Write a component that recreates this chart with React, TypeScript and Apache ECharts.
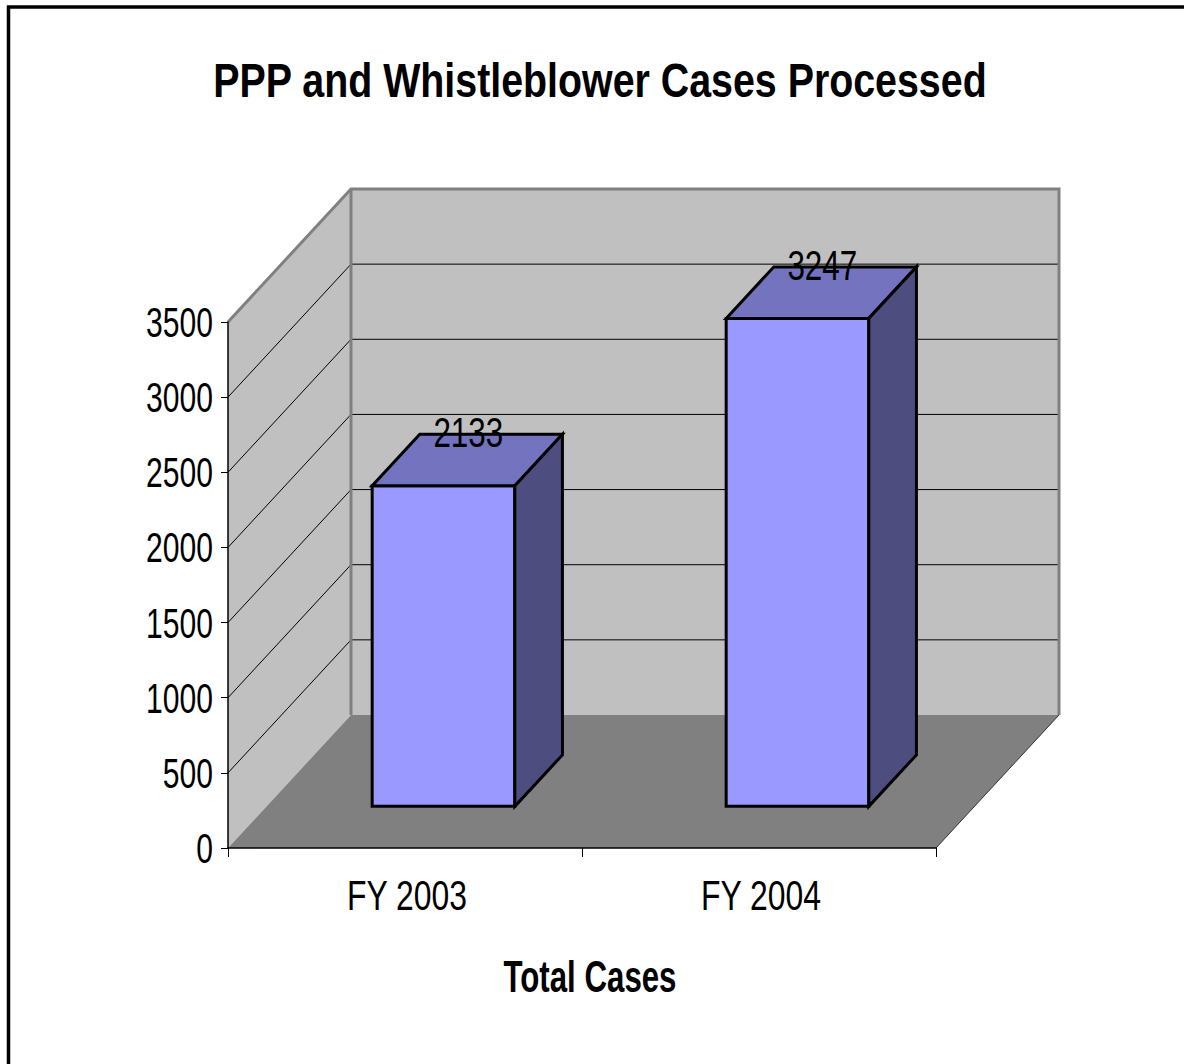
import React, { useEffect, useRef } from "react";
import * as echarts from "echarts";

const categories = ["FY 2003", "FY 2004"];
const values = [2133, 3247];
const yTicks = [0, 500, 1000, 1500, 2000, 2500, 3000, 3500];
const yMin = 0;
const yMax = 3500;
const yInterval = 500;
const titleText = "PPP and Whistleblower Cases Processed";
const axisTitle = "Total Cases";

const FONT = '"Liberation Sans", Arial, sans-serif';

const DX = 123;
const DY = -133;
const BAR_Z0 = 0.313;
const BAR_Z1 = 0.70;
const BAR_W = 0.403;

export default function App() {
  const ref = useRef<HTMLDivElement>(null);
  useEffect(() => {
    const chart = echarts.init(ref.current!, null, { renderer: "svg" });
    const P = (x: number, y: number, z: number) => [x + z * DX, y + z * DY];

    const wallsRender = (params: any, api: any) => {
      const band = api.size([1, 0])[0];
      const c0 = api.coord([0, yMin]);
      const cN = api.coord([categories.length - 1, yMin]);
      const xL = c0[0] - band / 2;
      const xR = cN[0] + band / 2;
      const yB = c0[1];
      const yT = api.coord([0, yMax])[1];
      const children: any[] = [];
      children.push({
        type: "polygon",
        shape: { points: [P(xL, yB, 1), P(xR, yB, 1), P(xR, yT, 1), P(xL, yT, 1)] },
        style: { fill: "#C0C0C0" },
      });
      children.push({
        type: "polygon",
        shape: { points: [P(xL, yB, 0), P(xL, yB, 1), P(xL, yT, 1), P(xL, yT, 0)] },
        style: { fill: "#C0C0C0" },
      });
      children.push({
        type: "polygon",
        shape: { points: [P(xL, yB, 0), P(xR, yB, 0), P(xR, yB, 1), P(xL, yB, 1)] },
        style: { fill: "#808080" },
      });
      yTicks.forEach((v) => {
        if (v <= yMin || v >= yMax) return;
        const y = api.coord([0, v])[1];
        children.push({
          type: "polyline",
          shape: { points: [P(xL, y, 0), P(xL, y, 1), P(xR, y, 1)] },
          style: { stroke: "#000", lineWidth: 1, fill: null },
        });
      });
      children.push({
        type: "polyline",
        shape: { points: [P(xL, yT, 0), P(xL, yT, 1), P(xR, yT, 1), P(xR, yB, 1)] },
        style: { stroke: "#808080", lineWidth: 3, fill: null },
      });
      children.push({
        type: "polyline",
        shape: { points: [P(xL, yT, 1), P(xL, yB, 1)] },
        style: { stroke: "#808080", lineWidth: 3, fill: null },
      });
      children.push({
        type: "polyline",
        shape: { points: [P(xR, yB, 0), P(xR, yB, 1)] },
        style: { stroke: "#333", lineWidth: 1, fill: null },
      });
      return { type: "group", children };
    };

    const barsRender = (params: any, api: any) => {
      const ci = api.value(0);
      const v = api.value(1);
      const c = api.coord([ci, yMin]);
      const t = api.coord([ci, v]);
      const band = api.size([1, 0])[0];
      const hw = (band * BAR_W) / 2;
      const x0 = c[0] - hw;
      const x1 = c[0] + hw;
      const yb = c[1];
      const yt = t[1];
      const edge = { stroke: "#000", lineWidth: 3, lineJoin: "miter" };
      const lab = P(c[0], yt, (BAR_Z0 + BAR_Z1) / 2);
      return {
        type: "group",
        children: [
          {
            type: "polygon",
            shape: { points: [P(x0, yb, BAR_Z0), P(x1, yb, BAR_Z0), P(x1, yt, BAR_Z0), P(x0, yt, BAR_Z0)] },
            style: { fill: "#9999FF", ...edge },
          },
          {
            type: "polygon",
            shape: { points: [P(x0, yt, BAR_Z0), P(x1, yt, BAR_Z0), P(x1, yt, BAR_Z1), P(x0, yt, BAR_Z1)] },
            style: { fill: "#7373BF", ...edge },
          },
          {
            type: "polygon",
            shape: { points: [P(x1, yb, BAR_Z0), P(x1, yb, BAR_Z1), P(x1, yt, BAR_Z1), P(x1, yt, BAR_Z0)] },
            style: { fill: "#4D4D80", ...edge },
          },
          {
            type: "text",
            x: lab[0] + 1,
            y: lab[1] - 28,
            scaleX: 0.73,
            style: {
              text: String(v),
              fill: "#000",
              font: `43px ${FONT}`,
              align: "center",
              verticalAlign: "middle",
            },
          },
        ],
      };
    };

    const yLabelRender = (params: any, api: any) => {
      const v = api.value(1);
      const p = api.coord([0, v]);
      const band = api.size([1, 0])[0];
      return {
        type: "text",
        x: p[0] - band / 2 - 15,
        y: p[1],
        scaleX: 0.7,
        style: {
          text: String(v),
          fill: "#000",
          font: `43px ${FONT}`,
          align: "right",
          verticalAlign: "middle",
        },
      };
    };

    const xLabelRender = (params: any, api: any) => {
      const i = api.value(0);
      const p = api.coord([i, yMin]);
      return {
        type: "text",
        x: p[0] + 2,
        y: p[1] + 47,
        scaleX: 0.76,
        style: {
          text: categories[i],
          fill: "#000",
          font: `42px ${FONT}`,
          align: "center",
          verticalAlign: "middle",
        },
      };
    };

    chart.setOption({
      animation: false,
      backgroundColor: "#fff",
      grid: { left: 228, top: 322, width: 708, height: 526, containLabel: false },
      xAxis: {
        type: "category",
        data: categories,
        boundaryGap: true,
        axisLine: { lineStyle: { color: "#000", width: 1.5 } },
        axisTick: { show: true, length: 9, lineStyle: { color: "#000", width: 1 } },
        axisLabel: { show: false },
        splitLine: { show: false },
      },
      yAxis: {
        type: "value",
        min: yMin,
        max: yMax,
        interval: yInterval,
        axisLine: { show: true, lineStyle: { color: "#000", width: 1.5 } },
        axisTick: { show: true, length: 7, lineStyle: { color: "#000", width: 1 } },
        axisLabel: { show: false },
        splitLine: { show: false },
      },
      graphic: [
        {
          type: "text",
          x: 600,
          y: 80,
          scaleX: 0.82,
          style: {
            text: titleText,
            fill: "#000",
            font: `bold 48px ${FONT}`,
            align: "center",
            verticalAlign: "middle",
          },
        },
        {
          type: "text",
          x: 590,
          y: 976,
          scaleX: 0.71,
          style: {
            text: axisTitle,
            fill: "#000",
            font: `bold 44px ${FONT}`,
            align: "center",
            verticalAlign: "middle",
          },
        },
        {
          type: "rect",
          shape: { x: 8.5, y: 7, width: 1300, height: 1200 },
          style: { fill: null, stroke: "#000", lineWidth: 3.5 },
          z: 100,
        },
      ],
      series: [
        {
          type: "custom",
          renderItem: wallsRender,
          data: [[0, 0]],
          z: 0,
          silent: true,
          clip: false,
        },
        {
          type: "custom",
          renderItem: barsRender,
          data: values.map((v, i) => [i, v]),
          z: 3,
          silent: true,
          clip: false,
        },
        {
          type: "custom",
          renderItem: yLabelRender,
          data: yTicks.map((v) => [0, v]),
          z: 4,
          silent: true,
          clip: false,
        },
        {
          type: "custom",
          renderItem: xLabelRender,
          data: categories.map((c, i) => [i, 0]),
          z: 4,
          silent: true,
          clip: false,
        },
      ],
    });
    return () => chart.dispose();
  }, []);
  return (
    <div
      ref={ref}
      style={{ position: "absolute", left: 0, top: 0, width: 1184, height: 1064 }}
    />
  );
}
